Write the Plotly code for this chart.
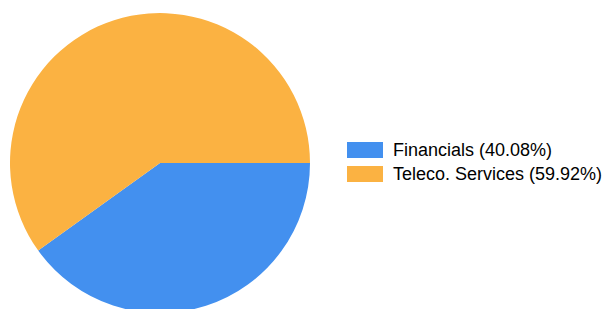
import plotly.graph_objects as go

# Data
categories = ["Financials", "Teleco. Services"]
values = [40.08, 59.92]
colors = ["#4390EF", "#FBB242"]

W, H = 613, 313  # figure slightly taller than window: pie bottom is clipped in reference

def px_x(x):
    return x / W

def px_y(y):
    return 1 - y / H

fig = go.Figure(
    go.Pie(
        labels=categories,
        values=values,
        marker=dict(colors=colors, line=dict(width=0)),
        sort=False,
        direction="clockwise",
        rotation=90,
        textinfo="none",
        hoverinfo="label+percent",
        showlegend=False,
        domain=dict(x=[px_x(10), px_x(310)], y=[px_y(313), px_y(13)]),
    )
)

total = sum(values)
shapes = []
annotations = []
for i, (cat, val, col) in enumerate(zip(categories, values, colors)):
    top = 142 + 24 * i
    shapes.append(dict(
        type="rect", xref="paper", yref="paper",
        x0=px_x(347), x1=px_x(383), y0=px_y(top + 16), y1=px_y(top),
        fillcolor=col, line=dict(width=0),
    ))
    annotations.append(dict(
        xref="paper", yref="paper", x=px_x(391), y=px_y(top + 8),
        xanchor="left", yanchor="middle", showarrow=False,
        text=f"{cat} ({val / total * 100:.2f}%)",
        font=dict(family="Liberation Sans, Arial, sans-serif", size=18, color="#000000"),
    ))

fig.update_layout(
    width=W, height=H,
    margin=dict(l=0, r=0, t=0, b=0),
    paper_bgcolor="white", plot_bgcolor="white",
    shapes=shapes, annotations=annotations,
)

fig.write_html(
    "out.html",
    config={"displayModeBar": False},
    post_script="document.body.style.margin='0';document.body.style.overflow='hidden';",
)
